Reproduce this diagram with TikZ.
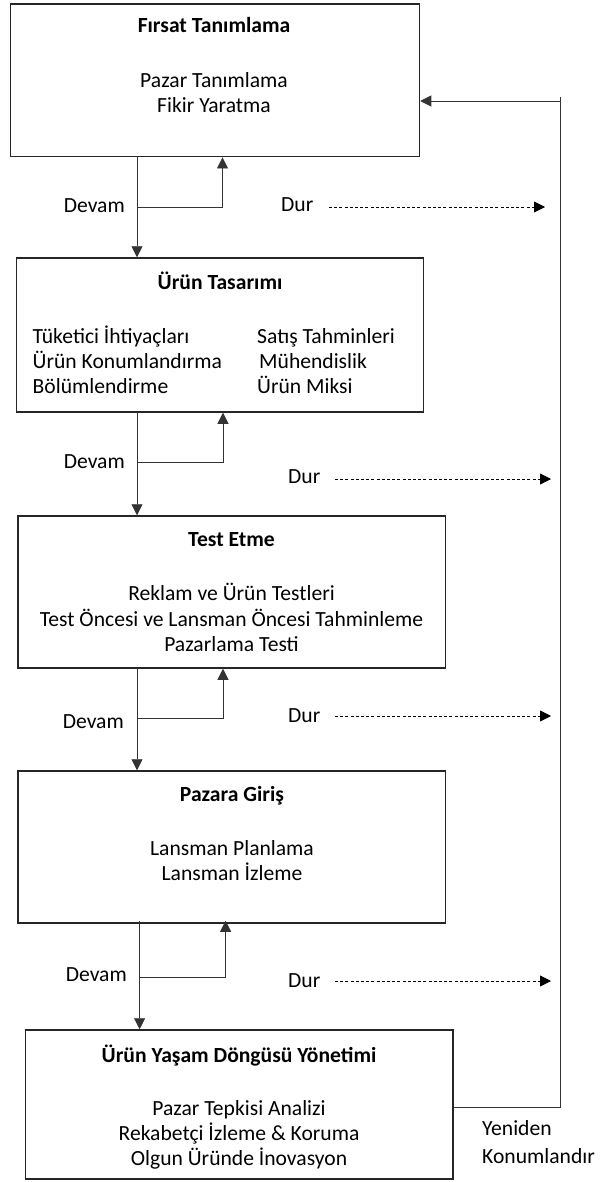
\documentclass[tikz,border=0pt]{standalone}
\usepackage{fontspec}
\setmainfont{Carlito}
\usetikzlibrary{arrows.meta}
\tikzset{
  box/.style={draw=black!85, line width=1.5pt, rectangle, inner sep=0pt},
  txt/.style={anchor=base, inner sep=0pt, font=\fontsize{21.6}{25}\selectfont},
  ttl/.style={anchor=base, inner sep=0pt, font=\fontsize{21.6}{25}\selectfont\bfseries},
  ltxt/.style={anchor=base west, inner sep=0pt, font=\fontsize{21.6}{25}\selectfont},
  rtxt/.style={anchor=base east, inner sep=0pt, font=\fontsize{21.6}{25}\selectfont},
  conn/.style={draw=black!80, line width=0.8pt},
  arr/.style={conn, -{Triangle[length=11pt,width=11pt]}},
  darr/.style={draw=black, line width=0.8pt, dash pattern=on 3pt off 2.2pt, -{Triangle[length=11pt,width=11pt]}}
}
\begin{document}
\begin{tikzpicture}[x=1pt,y=-1pt]
\useasboundingbox (0,0) rectangle (600,1182);
% boxes
\node[box, minimum width=408.8pt, minimum height=152.7pt] (b1) at (215.1,80.35) {};
\node[box, minimum width=407.3pt, minimum height=154pt] (b2) at (220,335) {};
\node[box, minimum width=427.5pt, minimum height=152pt] (b3) at (231.75,592) {};
\node[box, minimum width=427.5pt, minimum height=152pt] (b4) at (231.75,847) {};
\node[box, minimum width=427.4pt, minimum height=149pt] (b5) at (239.3,1104.5) {};
% box 1 text
\node[ttl] (b1t) at (214,33) {Fırsat Tanımlama};
\node[txt] (b1a) at (214,88) {Pazar Tanımlama};
\node[txt] (b1b) at (214,113) {Fikir Yaratma};
% box 2 text
\node[ttl] (b2t) at (220,289) {Ürün Tasarımı};
\node[ltxt] (b2a) at (32.5,343) {Tüketici İhtiyaçları};
\node[ltxt] (b2b) at (32.5,368) {Ürün Konumlandırma};
\node[ltxt] (b2c) at (32.5,393) {Bölümlendirme};
\node[ltxt] (b2d) at (257,343) {Satış Tahminleri};
\node[ltxt] (b2e) at (259,368) {Mühendislik};
\node[ltxt] (b2f) at (257,393) {Ürün Miksi};
% box 3 text
\node[ttl] (b3t) at (231.5,546) {Test Etme};
\node[txt] (b3a) at (231.5,600) {Reklam ve Ürün Testleri};
\node[txt] (b3b) at (231.5,626) {Test Öncesi ve Lansman Öncesi Tahminleme};
\node[txt] (b3c) at (231.5,651) {Pazarlama Testi};
% box 4 text
\node[ttl] (b4t) at (232,801) {Pazara Giriş};
\node[txt] (b4a) at (232,855) {Lansman Planlama};
\node[txt] (b4b) at (232,880) {Lansman İzleme};
% box 5 text
\node[ttl] (b5t) at (239,1062) {Ürün Yaşam Döngüsü Yönetimi};
\node[txt] (b5a) at (239,1115) {Pazar Tepkisi Analizi};
\node[txt] (b5b) at (239,1140) {Rekabetçi İzleme \& Koruma};
\node[txt] (b5c) at (239,1165) {Olgun Üründe İnovasyon};
% Devam / Dur labels
\node[rtxt] (dv1) at (125,213) {Devam};
\node[rtxt] (dv2) at (125,468) {Devam};
\node[rtxt] (dv3) at (124,728) {Devam};
\node[rtxt] (dv4) at (127,981) {Devam};
\node[ltxt] (du1) at (281,212) {Dur};
\node[ltxt] (du2) at (288,483) {Dur};
\node[ltxt] (du3) at (288,722) {Dur};
\node[ltxt] (du4) at (288,987) {Dur};
% junction coordinates
\coordinate (j1) at (137,207);   \coordinate (u1) at (222.5,207);
\coordinate (j2) at (137,462);   \coordinate (u2) at (223,462);
\coordinate (j3) at (137,718);   \coordinate (u3) at (223,718);
\coordinate (j4) at (139.6,977); \coordinate (u4) at (225.6,977);
% Devam connectors
\draw[arr] (b1.south -| j1) -- (b2.north -| j1);
\draw[arr] (j1) -- (u1) -- (u1 |- b1.south);
\draw[arr] (b2.south -| j2) -- (b3.north -| j2);
\draw[arr] (j2) -- (u2) -- (u2 |- b2.south);
\draw[arr] (b3.south -| j3) -- (b4.north -| j3);
\draw[arr] (j3) -- (u3) -- (u3 |- b3.south);
\draw[arr] ([yshift=3pt]b4.south -| j4) -- (b5.north -| j4);
\draw[arr] (j4) -- (u4) -- ([yshift=3pt]u4 |- b4.south);
% Dur dashed arrows
\coordinate (s1) at (545,207);
\coordinate (s2) at (551,479);
\coordinate (s3) at (551,716);
\coordinate (s4) at (551,981);
\draw[darr] (329,0 |- s1) -- (s1);
\draw[darr] (335,0 |- s2) -- (s2);
\draw[darr] (335,0 |- s3) -- (s3);
\draw[darr] (335,0 |- s4) -- (s4);
% return loop
\coordinate (rt) at (560,97);
\coordinate (ra) at (560,101);
\coordinate (rb) at (560,1107);
\draw[conn] (b5.east |- rb) -- (rb) -- (rt);
\draw[arr] (ra) -- (b1.east |- ra);
\node[ltxt] (ye1) at (482,1135) {Yeniden};
\node[ltxt] (ye2) at (482,1163) {Konumlandır};
\end{tikzpicture}
\end{document}
